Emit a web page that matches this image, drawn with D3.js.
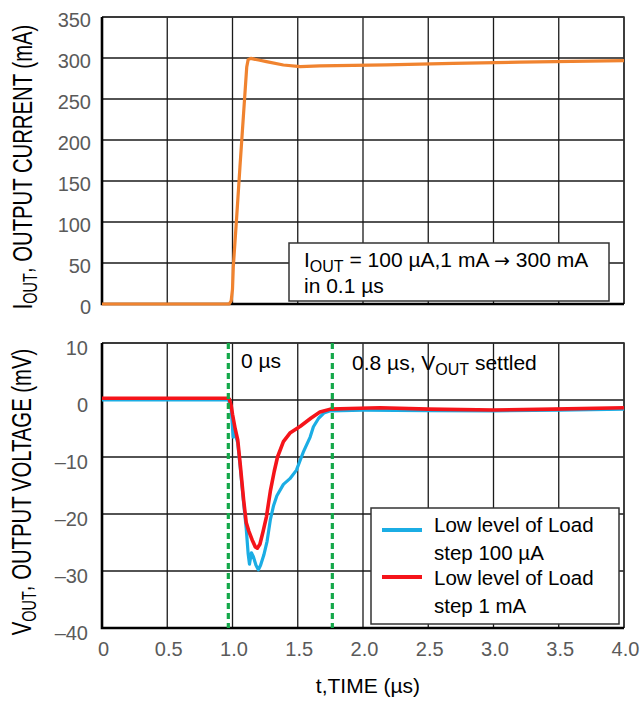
<!DOCTYPE html>
<html><head><meta charset="utf-8">
<script src="https://cdn.jsdelivr.net/npm/d3@7"></script>
<style>
body{margin:0;background:#fff}
svg{display:block}
text{font-family:"Liberation Sans",Arial,Helvetica,sans-serif}
</style>
</head><body>
<svg id="c" width="641" height="704"></svg>
<script>
// ---------- data ----------
const timeTicks = [0, 0.5, 1.0, 1.5, 2.0, 2.5, 3.0, 3.5, 4.0];
const timeTickLabels = ["0", "0.5", "1.0", "1.5", "2.0", "2.5", "3.0", "3.5", "4.0"];
const currentTicks = [0, 50, 100, 150, 200, 250, 300, 350];
const voltageTicks = [-40, -30, -20, -10, 0, 10];
const voltageTickLabels = ["–40", "–30", "–20", "–10", "0", "10"];

// output current (mA) vs time (µs)
const currentT  = [0, 0.975, 0.99, 1.0, 1.006, 1.032, 1.057, 1.083, 1.109, 1.12, 1.14, 1.2, 1.26, 1.39, 1.52, 1.67, 2.18, 2.69, 3.2, 4.0];
const currentMA = [0, 0, 4, 18, 45, 106, 167, 228, 289, 298, 299.5, 297.5, 295.5, 291.5, 289.5, 290.5, 291.5, 293.5, 295, 296.7];

// output voltage (mV), load step low level 100 µA
const blueT  = [0, 0.5, 0.97, 0.99, 1.005, 1.015, 1.04, 1.06, 1.085, 1.105, 1.12, 1.13, 1.145, 1.16, 1.18, 1.198, 1.215, 1.24, 1.265, 1.29, 1.315, 1.34, 1.39, 1.44, 1.49, 1.545, 1.595, 1.62, 1.66, 1.70, 1.75, 2.0, 2.5, 3.0, 3.5, 4.0];
const blueMV = [0, 0, 0, -1.5, -6.5, -5.5, -7.5, -12, -18, -22.5, -27, -28.8, -26.8, -27.5, -29, -29.8, -29, -27.2, -24.8, -21, -18.5, -16.8, -14.8, -13.8, -12.3, -9, -6.5, -4.7, -3.2, -2.3, -1.9, -1.8, -1.85, -1.9, -1.8, -1.6];

// output voltage (mV), load step low level 1 mA
const redT  = [0, 0.5, 0.96, 0.975, 0.99, 1.0, 1.02, 1.04, 1.06, 1.085, 1.105, 1.125, 1.15, 1.175, 1.19, 1.21, 1.235, 1.26, 1.29, 1.32, 1.345, 1.39, 1.44, 1.52, 1.6, 1.67, 1.75, 1.9, 2.13, 2.5, 3.0, 3.46, 4.0];
const redMV = [0.3, 0.3, 0.3, 0.2, -1, -2.5, -5, -7, -11.5, -17.5, -21.5, -23, -24.5, -25.8, -26, -25.3, -23, -20.5, -16, -12.5, -10, -7.3, -5.8, -4.6, -3.2, -2.1, -1.6, -1.5, -1.35, -1.6, -1.75, -1.6, -1.35];

const markerTimes = [0.968, 1.765];
const legendLabels = [["Low level of Load", "step 100 µA"], ["Low level of Load", "step 1 mA"]];
const seriesColors = ["#1BADE4", "#F5141A"];

// ---------- drawing ----------
const svg = d3.select("#c");
const x  = d3.scaleLinear().domain([0, 4]).range([102, 624]);
const yI = d3.scaleLinear().domain([0, 350]).range([304, 17]);
const yV = d3.scaleLinear().domain([-40, 10]).range([628, 343]);

function grid(y, yTicks) {
  const g = svg.append("g");
  g.selectAll("line.v").data(timeTicks).join("line")
    .attr("x1", d => x(d)).attr("x2", d => x(d))
    .attr("y1", y.range()[1]).attr("y2", y.range()[0])
    .attr("stroke", "#1a1a1a").attr("stroke-width", 1.3);
  g.selectAll("line.h").data(yTicks).join("line")
    .attr("x1", x.range()[0]).attr("x2", x.range()[1])
    .attr("y1", d => y(d)).attr("y2", d => y(d))
    .attr("stroke", "#1a1a1a").attr("stroke-width", 1.3);
  g.append("path")
    .attr("d", `M${x.range()[0]},${y.range()[1]}H${x.range()[1]}V${y.range()[0]}`)
    .attr("fill", "none").attr("stroke", "#333").attr("stroke-width", 1.6);
  g.append("path")
    .attr("d", `M${x.range()[0]},${y.range()[1]}V${y.range()[0]}H${x.range()[1]}`)
    .attr("fill", "none").attr("stroke", "#000").attr("stroke-width", 2.6);
}
grid(yI, currentTicks);
grid(yV, voltageTicks);

function styleAxis(g) {
  g.select(".domain").remove();
  g.selectAll("text").attr("font-size", 20).attr("fill", "#5a5a5a")
    .attr("font-family", '"Liberation Sans",Arial,Helvetica,sans-serif');
}
svg.append("g").attr("transform", "translate(102,3.5)")
  .call(d3.axisLeft(yI).tickValues(currentTicks).tickSize(0).tickPadding(11))
  .call(styleAxis);
svg.append("g").attr("transform", "translate(102,5)")
  .call(d3.axisLeft(yV).tickValues(voltageTicks).tickSize(0).tickPadding(14)
    .tickFormat((d, i) => voltageTickLabels[i]))
  .call(styleAxis);
svg.append("g").attr("transform", "translate(1,628)")
  .call(d3.axisBottom(x).tickValues(timeTicks).tickSize(0).tickPadding(14)
    .tickFormat((d, i) => timeTickLabels[i]))
  .call(styleAxis);

// axis titles
function rotTitle(px, py, main, sub, rest) {
  const t = svg.append("text")
    .attr("transform", `translate(${px},${py}) rotate(-90) scale(1,1.35)`)
    .attr("text-anchor", "middle").attr("font-size", 20.3).attr("fill", "#000");
  t.append("tspan").text(main);
  t.append("tspan").attr("font-size", 14.5).attr("dy", 3.5).text(sub);
  t.append("tspan").attr("dy", -3.5).text(rest);
}
rotTitle(32, 167, "I", "OUT", ", OUTPUT CURRENT (mA)");
rotTitle(31, 492, "V", "OUT", ", OUTPUT VOLTAGE (mV)");

svg.append("text").attr("x", 368).attr("y", 693).attr("text-anchor", "middle")
  .attr("font-size", 21).attr("fill", "#000").text("t,TIME (µs)");

// annotation box (top)
svg.append("rect").attr("x", 289).attr("y", 243).attr("width", 320).attr("height", 58)
  .attr("fill", "#fff").attr("stroke", "#333").attr("stroke-width", 1.5);
const a1 = svg.append("text").attr("x", 304).attr("y", 267).attr("font-size", 21).attr("fill", "#000");
a1.append("tspan").text("I");
a1.append("tspan").attr("font-size", 16).attr("dy", 5).text("OUT");
a1.append("tspan").attr("dy", -5).text(" = 100 µA,1 mA ");
a1.append("tspan").attr("font-family", '"DejaVu Sans",sans-serif').attr("font-size", 19).text("→");
a1.append("tspan").text(" 300 mA");
svg.append("text").attr("x", 304).attr("y", 293).attr("font-size", 21).attr("fill", "#000").text("in 0.1 µs");

// current curve
const line = (xs, ys, y) => d3.line().x((d, i) => x(xs[i])).y((d, i) => y(ys[i]));
svg.append("path").datum(currentT)
  .attr("d", line(currentT, currentMA, yI))
  .attr("fill", "none").attr("stroke", "#F0832F").attr("stroke-width", 3.2)
  .attr("stroke-linejoin", "round");

// voltage curves
svg.append("path").datum(blueT)
  .attr("d", line(blueT, blueMV, yV))
  .attr("fill", "none").attr("stroke", seriesColors[0]).attr("stroke-width", 3.2)
  .attr("stroke-linejoin", "round");
svg.append("path").datum(redT)
  .attr("d", line(redT, redMV, yV))
  .attr("fill", "none").attr("stroke", seriesColors[1]).attr("stroke-width", 3.6)
  .attr("stroke-linejoin", "round");

// green markers
svg.selectAll("line.mk").data(markerTimes).join("line")
  .attr("x1", d => x(d)).attr("x2", d => x(d))
  .attr("y1", yV.range()[1]).attr("y2", yV.range()[0])
  .attr("stroke", "#14A84A").attr("stroke-width", 3.2)
  .attr("stroke-dasharray", "6,4");

// marker labels
svg.append("text").attr("x", 241).attr("y", 368).attr("font-size", 21).attr("fill", "#000").text("0 µs");
const m2 = svg.append("text").attr("x", 352).attr("y", 370).attr("font-size", 21).attr("fill", "#000");
m2.append("tspan").text("0.8 µs, V");
m2.append("tspan").attr("font-size", 16).attr("dy", 5).text("OUT");
m2.append("tspan").attr("dy", -5).text(" settled");

// legend
svg.append("rect").attr("x", 371).attr("y", 508).attr("width", 248).attr("height", 116)
  .attr("fill", "#fff").attr("stroke", "#333").attr("stroke-width", 1.5);
const legendLineY = [530, 577];
const legendTextY = [[532, 560], [585, 613]];
const lg = svg.selectAll("g.lg").data(legendLabels).join("g");
lg.append("line").attr("x1", 382).attr("x2", 422)
  .attr("y1", (d, i) => legendLineY[i]).attr("y2", (d, i) => legendLineY[i])
  .attr("stroke", (d, i) => seriesColors[i]).attr("stroke-width", 4);
lg.append("text").attr("x", 434).attr("y", (d, i) => legendTextY[i][0])
  .attr("font-size", 20.5).attr("fill", "#000").text(d => d[0]);
lg.append("text").attr("x", 434).attr("y", (d, i) => legendTextY[i][1])
  .attr("font-size", 20.5).attr("fill", "#000").text(d => d[1]);
</script>
</body></html>
